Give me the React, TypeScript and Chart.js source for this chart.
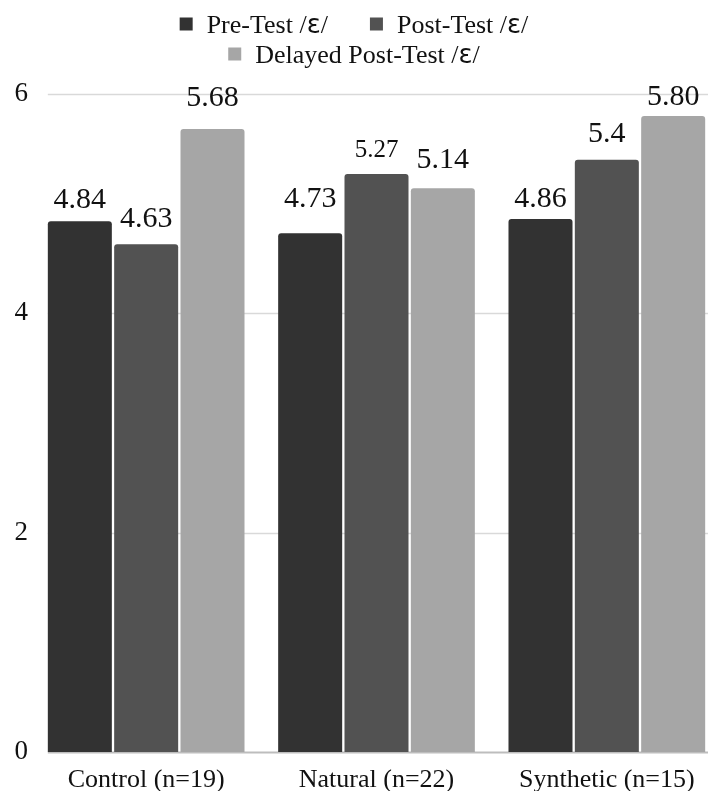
import React, { useEffect, useRef } from "react";
import { Chart, registerables } from "chart.js";

Chart.register(...registerables);

// Mean scores per group for the /ɛ/ vowel
const categories = ["Control (n=19)", "Natural (n=22)", "Synthetic (n=15)"];
const seriesNames = ["Pre-Test /ɛ/", "Post-Test /ɛ/", "Delayed Post-Test /ɛ/"];
const preTest = [4.84, 4.73, 4.86];
const postTest = [4.63, 5.27, 5.4];
const delayedPostTest = [5.68, 5.14, 5.8];
const preTestLabels = ["4.84", "4.73", "4.86"];
const postTestLabels = ["4.63", "5.27", "5.4"];
const delayedPostTestLabels = ["5.68", "5.14", "5.80"];
const yTicks = [0, 2, 4, 6];

// label styling: gap (px) between bar top and label baseline, and font size
const preTestLabelGap = [13, 26, 12];
const postTestLabelGap = [17, 17, 18];
const delayedLabelGap = [23, 20, 11];
const preTestLabelSize = [30, 30, 30];
const postTestLabelSize = [30, 25, 30];
const delayedLabelSize = [30, 30, 30];

const seriesColors = ["#323232", "#525252", "#a6a6a6"];
const FONT = "'Liberation Serif', 'Times New Roman', serif";
const SYMBOL_FONT = "'DejaVu Sans', sans-serif";
const CANVAS_W = 714;
const CANVAS_H = 783;

// light horizontal rules, starting at the left edge of the first bar
const gridPlugin = {
  id: "gridRules",
  beforeDatasetsDraw(chart: any) {
    const { ctx, chartArea, scales } = chart;
    const first = chart.getDatasetMeta(0).data[0] as any;
    const x0 = first.x - first.width / 2;
    ctx.save();
    yTicks.forEach((v) => {
      const y = Math.round(scales.y.getPixelForValue(v)) + 0.5;
      ctx.strokeStyle = v === 0 ? "#bdbdbd" : "#d9d9d9";
      ctx.lineWidth = v === 0 ? 2 : 1.5;
      ctx.beginPath();
      ctx.moveTo(x0, y);
      ctx.lineTo(chartArea.right, y);
      ctx.stroke();
    });
    ctx.restore();
  },
};

// value labels above each bar
const valueLabelPlugin = {
  id: "valueLabels",
  afterDatasetsDraw(chart: any) {
    const { ctx } = chart;
    const labelSets = [preTestLabels, postTestLabels, delayedPostTestLabels];
    const gaps = [preTestLabelGap, postTestLabelGap, delayedLabelGap];
    const sizes = [preTestLabelSize, postTestLabelSize, delayedLabelSize];
    ctx.save();
    ctx.fillStyle = "#111";
    ctx.textAlign = "center";
    ctx.textBaseline = "alphabetic";
    chart.data.datasets.forEach((_: any, di: number) => {
      chart.getDatasetMeta(di).data.forEach((bar: any, i: number) => {
        ctx.font = `${sizes[di][i]}px ${FONT}`;
        ctx.fillText(labelSets[di][i], bar.x, bar.y - gaps[di][i]);
      });
    });
    ctx.restore();
  },
};

// legend text: serif for the words, a sans face for the phonetic symbol
const LEGEND_SIZE = 26;
function legendParts(text: string) {
  const parts: { s: string; font: string }[] = [];
  text.split(/(ɛ)/).forEach((s) => {
    if (!s) return;
    parts.push({ s, font: `${LEGEND_SIZE}px ${s === "ɛ" ? SYMBOL_FONT : FONT}` });
  });
  return parts;
}
function measureParts(ctx: CanvasRenderingContext2D, text: string) {
  return legendParts(text).reduce((w, p) => {
    ctx.font = p.font;
    return w + ctx.measureText(p.s).width;
  }, 0);
}

// two-row legend centred over the page width
const legendPlugin = {
  id: "twoRowLegend",
  afterDraw(chart: any) {
    const { ctx } = chart;
    const rows = [[0, 1], [2]];
    const rowY = [15, 45];
    const box = 13;
    const boxGap = 14;
    const itemGap = 42;
    const centre = 346;
    ctx.save();
    ctx.textBaseline = "alphabetic";
    rows.forEach((row, r) => {
      const widths = row.map((i) => box + boxGap + measureParts(ctx, seriesNames[i]));
      const total = widths.reduce((a, b) => a + b, 0) + itemGap * (row.length - 1);
      let x = centre - total / 2;
      row.forEach((i, k) => {
        ctx.fillStyle = seriesColors[i];
        ctx.fillRect(x, rowY[r] - box / 2 + 1, box, box);
        ctx.fillStyle = "#111";
        ctx.textAlign = "left";
        let tx = x + box + boxGap;
        legendParts(seriesNames[i]).forEach((p) => {
          ctx.font = p.font;
          ctx.fillText(p.s, tx, rowY[r] + 10);
          tx += ctx.measureText(p.s).width;
        });
        x += widths[k] + itemGap;
      });
    });
    ctx.restore();
  },
};

export default function App() {
  const canvasRef = useRef<HTMLCanvasElement | null>(null);

  useEffect(() => {
    if (!canvasRef.current) return;
    const makeSet = (label: string, data: number[], color: string) => ({
      label,
      data,
      backgroundColor: color,
      borderWidth: 0,
      borderRadius: { topLeft: 3, topRight: 3, bottomLeft: 0, bottomRight: 0 },
      borderSkipped: "bottom" as const,
      barPercentage: 0.965,
      categoryPercentage: 0.864,
    });
    const chart = new Chart(canvasRef.current, {
      type: "bar",
      data: {
        labels: categories,
        datasets: [
          makeSet(seriesNames[0], preTest, seriesColors[0]),
          makeSet(seriesNames[1], postTest, seriesColors[1]),
          makeSet(seriesNames[2], delayedPostTest, seriesColors[2]),
        ],
      },
      options: {
        responsive: false,
        animation: false,
        devicePixelRatio: 1,
        layout: { padding: { top: 86, left: 0, right: 0, bottom: 0 } },
        plugins: {
          legend: { display: false },
          tooltip: { enabled: false },
        },
        scales: {
          x: {
            grid: { display: false, drawTicks: false },
            border: { display: false },
            ticks: {
              color: "#111",
              font: { family: FONT, size: 26 },
              padding: 13,
              maxRotation: 0,
            },
            afterFit(scale: any) {
              scale.height = 39;
            },
          },
          y: {
            min: 0,
            max: 6,
            grid: { display: false, drawTicks: false },
            border: { display: false },
            ticks: {
              stepSize: 2,
              color: "#111",
              font: { family: FONT, size: 27 },
              padding: 3,
            },
            afterFit(scale: any) {
              scale.width = 23;
            },
          },
        },
      },
      plugins: [gridPlugin, valueLabelPlugin, legendPlugin],
    });
    return () => chart.destroy();
  }, []);

  return (
    <div
      style={{
        position: "fixed",
        left: 0,
        top: 0,
        width: "100vw",
        height: "100vh",
        overflow: "hidden",
        background: "#fff",
      }}
    >
      <canvas
        ref={canvasRef}
        width={CANVAS_W}
        height={CANVAS_H}
        style={{ position: "absolute", left: 8, top: 8, display: "block" }}
      />
    </div>
  );
}
